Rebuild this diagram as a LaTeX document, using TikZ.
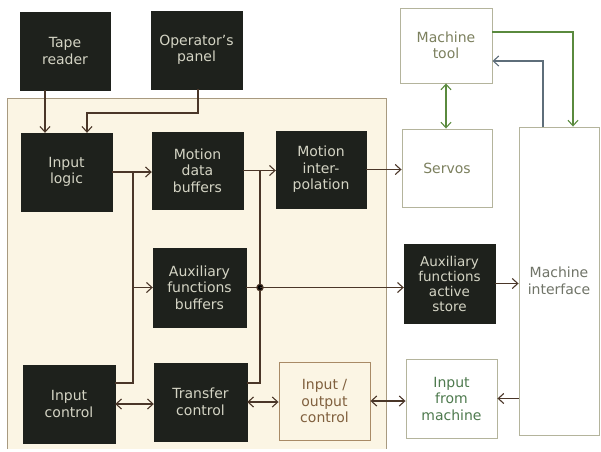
\documentclass[tikz,border=0pt]{standalone}
\usepackage{fontspec}
\setmainfont{DejaVu Sans}
\usetikzlibrary{arrows.meta}
\definecolor{darkfill}{HTML}{1E211C}
\definecolor{darktext}{HTML}{D4D4C4}
\definecolor{panelfill}{HTML}{FBF5E4}
\definecolor{panelline}{HTML}{A89A80}
\definecolor{whiteline}{HTML}{B4B49C}
\definecolor{olivetext}{HTML}{7C805E}
\definecolor{greentext}{HTML}{4E7A4E}
\definecolor{browntext}{HTML}{80603E}
\definecolor{brownline}{HTML}{A88A66}
\definecolor{graytext}{HTML}{707468}
\definecolor{wire}{HTML}{4A3628}
\definecolor{greenwire}{HTML}{5A8A3E}
\definecolor{bluewire}{HTML}{5E6E7A}
\tikzset{
  blk/.style={draw=darkfill, fill=darkfill, text=darktext, align=center, inner sep=0pt,
    font=\fontsize{14}{16.5}\selectfont},
  wbox/.style={draw=whiteline, fill=white, text=olivetext, align=center, inner sep=0pt, line width=0.9pt,
    font=\fontsize{14}{16.5}\selectfont},
  wire/.style={draw=wire, line width=1.1pt},
  arr/.style={wire, -{Straight Barb[length=5.5pt,width=10pt]}},
  arrtwo/.style={wire, {Straight Barb[length=5.5pt,width=10pt]}-{Straight Barb[length=5.5pt,width=10pt]}},
}
\begin{document}
\begin{tikzpicture}[x=1pt,y=-1pt]
\useasboundingbox[fill=white] (0,0) rectangle (601,451);
% panel
\fill[panelfill] (7,98) rectangle (386,449);
\draw[panelline, line width=0.9pt] (7,449) -- (7,98) -- (386,98) -- (386,449);

% dark blocks
\node[blk, minimum width=90, minimum height=78] (tape) at (65,51) {Tape\\reader};
\node[blk, minimum width=91, minimum height=78] (op) at (196.5,50) {Operator's\\panel};
\node[blk, minimum width=91, minimum height=78] (inlogic) at (66.5,172) {Input\\logic};
\node[blk, minimum width=91, minimum height=77] (mdb) at (197.5,170.5) {Motion\\data\\buffers};
\node[blk, minimum width=90, minimum height=77] (mint) at (321,169.5) {Motion\\inter-\\polation};
\node[blk, minimum width=93, minimum height=79] (afb) at (199.5,287.5) {Auxiliary\\functions\\buffers};
\node[blk, minimum width=91, minimum height=79, font=\fontsize{13.5}{15}\selectfont] (afas) at (449.5,283.5) {Auxiliary\\functions\\active\\store};
\node[blk, minimum width=92, minimum height=78] (inctl) at (69,404) {Input\\control};
\node[blk, minimum width=93, minimum height=78] (tc) at (200.5,402) {Transfer\\control};

% white blocks
\node[wbox, minimum width=92, minimum height=75] (mtool) at (446,45.5) {Machine\\tool};
\node[wbox, minimum width=90, minimum height=78] (servos) at (447,168) {Servos};
\node[wbox, minimum width=80, minimum height=308, text=graytext] (mi) at (559,281) {Machine\\interface};
\node[wbox, minimum width=91, minimum height=79, text=greentext] (ifm) at (451.5,398.5) {Input\\from\\machine};
\node[wbox, minimum width=91, minimum height=78, draw=brownline, fill=panelfill, text=browntext] (ioc) at (324.5,401) {Input /\\output\\control};

% connectors
\coordinate (va) at (133,0);
\coordinate (vb) at (260,0);
\coordinate (j1) at (87,113);
\draw[arr] ([xshift=-20pt]tape.south) -- ([xshift=-21.5pt]inlogic.north);
\draw[arr] ([xshift=1.5pt]op.south) |- (j1) -- (j1 |- inlogic.north);
\draw[arr] (inlogic.east) -- (inlogic.east -| mdb.west);
\draw[wire] (inlogic.east -| va) -- ([yshift=21pt]inctl.east -| va) -- ([yshift=21pt]inctl.east);
\draw[arr] (afb.west -| va) -- (afb.west);
\draw[arr] (mdb.east) -- (mdb.east -| mint.west);
\draw[wire] (mdb.east -| vb) -- ([yshift=19pt]tc.east -| vb) -- ([yshift=19pt]tc.east);
\draw[wire] (afb.east) -- (afb.east -| vb);
\fill[wire] (afb.east -| vb) circle (3.2pt);
\draw[arr] (afb.east -| vb) -- (afb.east -| afas.west);
\draw[arr] (mint.east) -- (mint.east -| servos.west);
\draw[arr] (afas.east) -- (mi.west |- afas.east);
\draw[arrtwo] (inctl.east) -- (inctl.east -| tc.west);
\draw[arrtwo] (tc.east) -- (tc.east -| ioc.west);
\draw[arrtwo] (ioc.east) -- (ioc.east -| ifm.west);
\draw[arr] (mi.west |- ifm.east) -- (ifm.east);
\draw[arrtwo, draw=greenwire] (mtool.south) -- (mtool.south |- servos.north);
\coordinate (ga) at (573,0);
\coordinate (gb) at (543,0);
\draw[arr, draw=greenwire] ([yshift=13.5pt]mtool.east) -| (ga |- mi.north);
\draw[arr, draw=bluewire] (gb |- mi.north) |- ([yshift=-15.5pt]mtool.east);
\end{tikzpicture}
\end{document}
